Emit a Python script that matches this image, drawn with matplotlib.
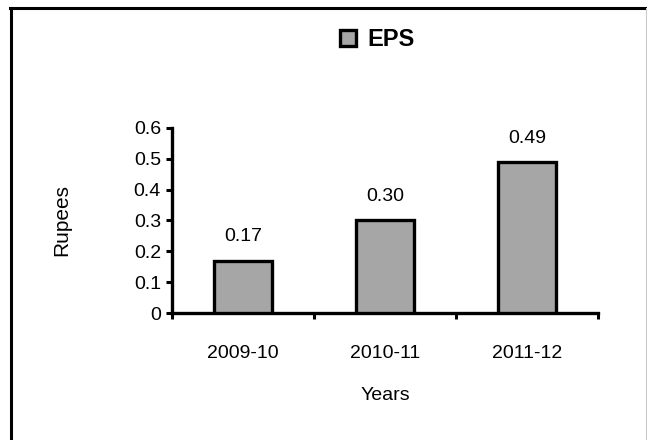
import matplotlib
matplotlib.use("Agg")
import matplotlib.pyplot as plt
from matplotlib.lines import Line2D

plt.rcParams['font.family'] = ['Liberation Sans', 'DejaVu Sans']

years = ["2009-10", "2010-11", "2011-12"]
eps = [0.17, 0.30, 0.49]
labels = ["0.17", "0.30", "0.49"]
yticks = [0, 0.1, 0.2, 0.3, 0.4, 0.5, 0.6]
ytick_labels = ["0", "0.1", "0.2", "0.3", "0.4", "0.5", "0.6"]

fig = plt.figure(figsize=(6.47, 4.40), dpi=100)
ax = fig.add_axes([172/647, 1-313/440, (598-172)/647, (313-128)/440])

x = list(range(len(years)))
bars = ax.bar(x, eps, width=0.41, color="#A6A6A6", edgecolor="black",
              linewidth=2.4, label="EPS", zorder=3)
for xi, v, t in zip(x, eps, labels):
    ax.annotate(t, (xi, v), xytext=(0, 11), textcoords="offset points",
                ha="center", va="bottom", fontsize=14)

ax.set_xlim(-0.5, 2.5)
ax.set_ylim(0, 0.6)
ax.set_yticks(yticks)
ax.set_yticklabels(ytick_labels, fontsize=14)
ax.set_xticks([-0.5, 0.5, 1.5, 2.5])
ax.set_xticklabels([])
ax.set_xticks(x, minor=True)
ax.set_xticklabels(years, minor=True, fontsize=14)
ax.tick_params(axis="x", which="minor", length=0, pad=23)
ax.tick_params(axis="x", which="major", length=4, width=2.2, direction="out")
ax.tick_params(axis="y", length=4, width=2.2, direction="out", pad=4)
for s in ["top", "right"]:
    ax.spines[s].set_visible(False)
for s in ["left", "bottom"]:
    ax.spines[s].set_linewidth(2.4)

ax.set_xlabel("Years", fontsize=14, labelpad=18)
ax.set_ylabel("Rupees", fontsize=15, labelpad=45)

leg = fig.legend(handles=[bars], labels=["EPS"], loc="center",
                 bbox_to_anchor=(377/647, 1-40/440), frameon=False,
                 prop={"weight": "bold", "size": 17}, handlelength=0.7,
                 handleheight=0.7, handletextpad=0.45)
for h in leg.legend_handles:
    h.set_linewidth(2.4)

# outer frame
fig.add_artist(Line2D([11/647, 11/647], [0, 1-8/440], color="black", lw=2.2,
                      transform=fig.transFigure))
fig.add_artist(Line2D([10/647, 1], [1-8/440, 1-8/440], color="black", lw=2.2,
                      transform=fig.transFigure))
fig.add_artist(Line2D([645.5/647, 645.5/647], [0, 1-8/440], color="#c8c8c8", lw=0.8,
                      transform=fig.transFigure))

fig.savefig("out.png", dpi=100)
